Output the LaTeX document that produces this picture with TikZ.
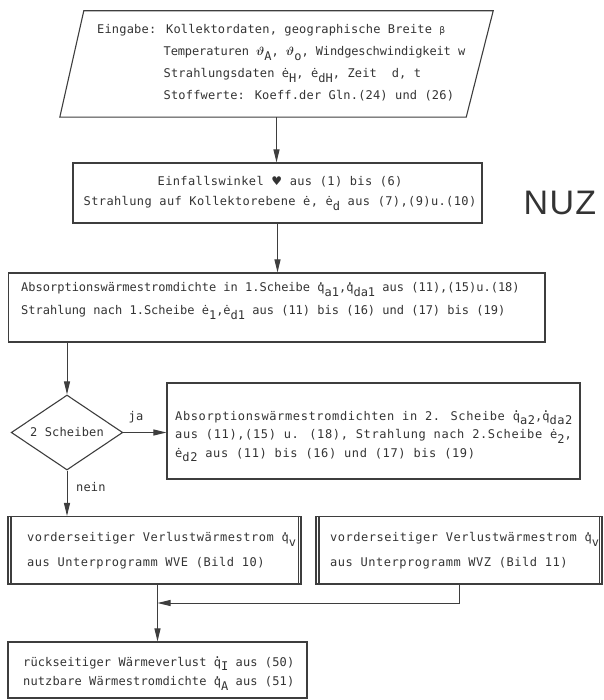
\documentclass[tikz,border=0pt]{standalone}
\usepackage{fontspec}
\usetikzlibrary{arrows.meta,shapes.geometric}
\newfontfamily\tw{DejaVu Sans Mono}
\newfontfamily\djs{DejaVu Sans}
\newfontfamily\nuzfont{Liberation Sans}
\definecolor{ink}{HTML}{333333}
\definecolor{lin}{HTML}{3e3e3e}
\newcommand\twset[2]{\tw\fontsize{12}{#1}\selectfont\addfontfeature{LetterSpace=#2}}
\newcommand\sbs[1]{\raisebox{-0.4em}{#1}}
\newcommand\qd{\rlap{\raisebox{0.6em}{.}}q}
\newcommand\thv{{\boldmath$\vartheta$}}
\begin{document}
\begin{tikzpicture}[x=1pt,y=-1pt,
  ln/.style={draw=lin, line width=1.1pt},
  box/.style={ln, rectangle, inner sep=0pt},
  arr/.style={draw=lin, line width=1pt, -{Triangle[length=13pt,width=6pt]}},
  txt/.style={inner sep=0pt, align=left, text=ink, anchor=base west},
  lbl/.style={inner sep=0pt, text=ink, font={\twset{14}{1.5}}}]
\useasboundingbox (0,0) rectangle (603,700);

% boxes
\node[rectangle, inner sep=0pt, minimum width=433pt, minimum height=106pt] (in) at (276.5,64) {};
\draw[ln] ([xshift=24pt]in.north west) -- (in.north east) -- ([xshift=-27pt]in.south east) -- (in.south west) -- cycle;
\node[box, minimum width=409pt, minimum height=60pt] (b2) at (277.5,193) {};
\node[box, minimum width=536.5pt, minimum height=69pt] (b3) at (276.75,307.5) {};
\node[diamond, ln, aspect=1.49, minimum width=111.5pt, minimum height=75pt, inner sep=0pt,
      text=ink, font={\twset{14}{1.5}}] (dia) at (67,432.5) {2 Scheiben};
\node[box, minimum width=413pt, minimum height=96pt] (b4) at (373.5,431) {};
\node[box, minimum width=293pt, minimum height=67.5pt] (b5) at (154.5,550.25) {};
\node[box, minimum width=286pt, minimum height=67.5pt] (b6) at (459,550.25) {};
\node[box, minimum width=299pt, minimum height=56pt] (b7) at (157.5,670) {};
\foreach \b in {b5,b6}{
  \draw[ln] ([xshift=3.5pt]\b.north west) -- ([xshift=3.5pt]\b.south west);
  \draw[ln] ([xshift=-3.5pt]\b.north east) -- ([xshift=-3.5pt]\b.south east);
}

% texts (anchor = baseline of the last line)
\node[txt, font={\twset{22}{1.5}}] (t1) at (97,100) {Eingabe: Kollektordaten, geographische Breite \scalebox{0.75}{β}\\
\hphantom{Eingabe:~}{\addfontfeature{LetterSpace=-1}Temperaturen \thv\sbs{A}, \thv\sbs{o}, Windgeschwindigkeit w}\\
\hphantom{Eingabe:~}Strahlungsdaten ė\sbs{H}, ė\sbs{dH}, Zeit~~d, t\\
\hphantom{Eingabe:~}Stoffwerte: Koeff.der Gln.(24) und (26)};
\node[txt, align=center, anchor=base, font={\twset{20}{3.2}}] (t2) at (280,205.5) {Einfallswinkel {\djs ♥} aus (1) bis (6)\\
Strahlung auf Kollektorebene ė, ė\sbs{d} aus (7),(9)u.(10)};
\node[txt, font={\twset{23}{0}}] (t3) at (21,314.5) {Absorptionswärmestromdichte in 1.Scheibe \qd\sbs{a1},\qd\sbs{da1} aus (11),(15)u.(18)\\
Strahlung nach 1.Scheibe ė\sbs{1},ė\sbs{d1} aus (11) bis (16) und (17) bis (19)};
\node[txt, font={\twset{18.5}{5.2}}] (t4) at (175,457) {Absorptionswärmestromdichten in 2. Scheibe \qd\sbs{a2},\qd\sbs{da2}\\
aus (11),(15) u. (18), Strahlung nach 2.Scheibe ė\sbs{2},\\
ė\sbs{d2} aus (11) bis (16) und (17) bis (19)};
\node[txt, font={\twset{25}{4.3}}] (t5) at (27,566.5) {vorderseitiger Verlustwärmestrom \qd\sbs{v}\\
aus Unterprogramm WVE (Bild 10)};
\node[txt, font={\twset{25}{4.3}}] (t6) at (330,566.5) {vorderseitiger Verlustwärmestrom \qd\sbs{v}\\
aus Unterprogramm WVZ (Bild 11)};
\node[txt, font={\twset{19.5}{1}}] (t7) at (23,685.5) {rückseitiger Wärmeverlust \qd\sbs{I} aus (50)\\
nutzbare Wärmestromdichte \qd\sbs{A} aus (51)};
\node[inner sep=0pt, text=ink, font={\nuzfont\fontsize{34}{40}\selectfont\addfontfeature{LetterSpace=4}}] (nuz) at (560,203) {NUZ};

% connectors
\coordinate (m) at (157.5,603);
\draw[arr] (in.south) -- (in.south |- b2.north);
\draw[arr] (b2.south) -- (b2.south |- b3.north);
\draw[arr] (dia.north |- b3.south) -- (dia.north);
\draw[arr] (dia.east) -- (dia.east -| b4.west);
\draw[arr] (dia.south) -- (dia.south |- b5.north);
\draw[arr] (m |- b5.south) -- (b7.north);
\draw[arr] (b6.south) |- (m);
\node[lbl] (ja) at (136,417) {ja};
\node[lbl, anchor=west] (nein) at (76,487) {nein};
\end{tikzpicture}
\end{document}
